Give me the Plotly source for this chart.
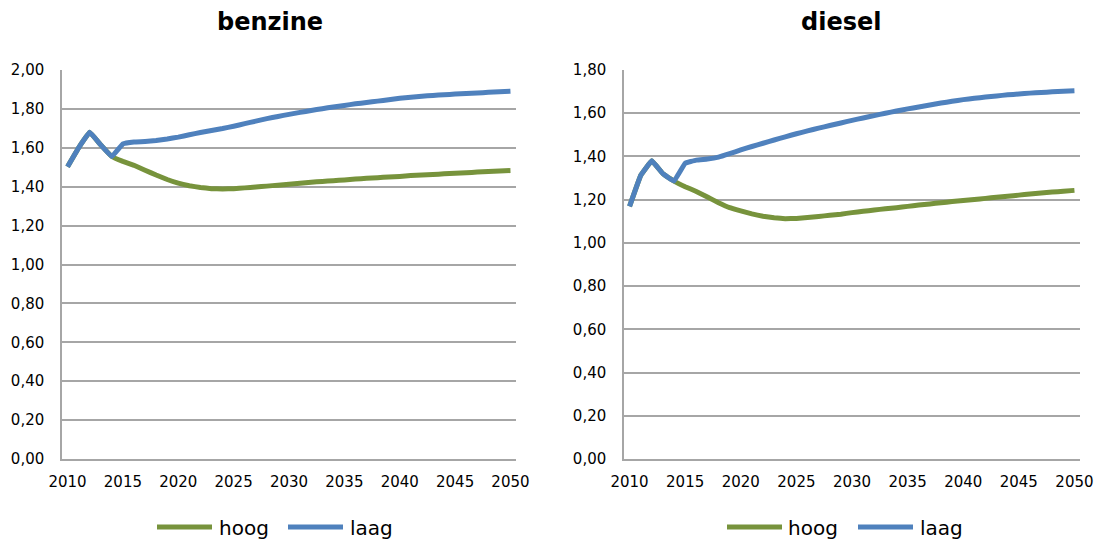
import plotly.graph_objects as go

years = list(range(2010, 2051))
series_names = ["hoog", "laag"]
panel_titles = ["benzine", "diesel"]

benzine_hoog = [1.503, 1.60, 1.68, 1.615, 1.555, 1.53, 1.51, 1.485, 1.46, 1.437,
                1.418, 1.405, 1.396, 1.39, 1.388, 1.39, 1.394, 1.398, 1.403, 1.408,
                1.413, 1.418, 1.423, 1.427, 1.431, 1.435, 1.439, 1.443, 1.446, 1.450,
                1.453, 1.457, 1.460, 1.463, 1.466, 1.469, 1.472, 1.475, 1.478, 1.481,
                1.483]
benzine_laag = [1.503, 1.60, 1.68, 1.615, 1.555, 1.62, 1.63, 1.632, 1.637, 1.645,
                1.655, 1.667, 1.679, 1.689, 1.699, 1.711, 1.724, 1.737, 1.750, 1.761,
                1.772, 1.782, 1.792, 1.801, 1.810, 1.818, 1.826, 1.833, 1.840, 1.847,
                1.855, 1.860, 1.865, 1.869, 1.873, 1.876, 1.879, 1.882, 1.885, 1.888,
                1.891]
diesel_hoog = [1.169, 1.312, 1.38, 1.32, 1.286, 1.26, 1.238, 1.212, 1.186, 1.163,
               1.148, 1.134, 1.123, 1.116, 1.112, 1.113, 1.117, 1.122, 1.128, 1.133,
               1.140, 1.146, 1.152, 1.158, 1.163, 1.169, 1.175, 1.180, 1.186, 1.191,
               1.196, 1.201, 1.206, 1.211, 1.216, 1.221, 1.226, 1.231, 1.235, 1.239,
               1.243]
diesel_laag = [1.169, 1.312, 1.38, 1.32, 1.286, 1.369, 1.383, 1.388, 1.397, 1.413,
               1.430, 1.446, 1.461, 1.476, 1.491, 1.505, 1.518, 1.531, 1.543, 1.555,
               1.567, 1.578, 1.589, 1.600, 1.610, 1.620, 1.629, 1.638, 1.647, 1.655,
               1.663, 1.669, 1.675, 1.680, 1.685, 1.689, 1.693, 1.696, 1.699, 1.702,
               1.704]

y_max = [2.0, 1.8]
colors = {"hoog": "#77933c", "laag": "#4f81bd"}
FONT = "DejaVu Sans"
GRID = "#a6a6a6"

fig = go.Figure()
data = [(benzine_hoog, benzine_laag), (diesel_hoog, diesel_laag)]
for i, (h, l) in enumerate(data):
    ax = "" if i == 0 else "2"
    for name, vals in zip(series_names, (h, l)):
        fig.add_trace(go.Scatter(x=years, y=vals, mode="lines", name=name,
                                 line=dict(color=colors[name], width=5,
                                           shape="spline", smoothing=0.2),
                                 xaxis="x" + ax, yaxis="y" + ax, showlegend=False,
                                 hoverinfo="skip"))

x_domains = [[62 / 1101, 516 / 1101], [624 / 1101, 1080 / 1101]]
y_domain = [1 - 459 / 540, 1 - 70 / 540]
for i in range(2):
    sfx = "" if i == 0 else "2"
    fig.layout["xaxis" + sfx] = dict(
        domain=x_domains[i], range=[2009.5, 2050.5], tickvals=list(range(2010, 2051, 5)),
        showgrid=False, zeroline=False, showline=True, linecolor=GRID, linewidth=1.5,
        ticks="", ticklabelstandoff=8, automargin=False,
        tickfont=dict(family=FONT, size=15, color="black"),
        anchor="y" + sfx, fixedrange=True)
    fig.layout["yaxis" + sfx] = dict(
        domain=y_domain, range=[0, y_max[i]], dtick=0.2, tickformat=".2f",
        showgrid=True, gridcolor=GRID, gridwidth=1.5, zeroline=False,
        showline=True, linecolor=GRID, linewidth=1.5, ticks="", ticklabelstandoff=13,
        automargin=False, tickfont=dict(family=FONT, size=15, color="black"),
        anchor="x" + sfx, fixedrange=True)

# panel titles
title_x = [270 / 1101, 841 / 1101]
for i, t in enumerate(panel_titles):
    fig.add_annotation(text="<b>" + t + "</b>", x=title_x[i], y=1 - 22 / 540,
                       xref="paper", yref="paper", showarrow=False,
                       xanchor="center", yanchor="middle",
                       font=dict(family=FONT, size=24, color="black"))

# legends
legend_items = [
    [(157, 212, 217), (288, 343, 348)],
    [(727, 782, 786), (858, 913, 918)],
]
ly = 1 - 527 / 540
for panel in legend_items:
    for name, (x0, x1, xt) in zip(series_names, panel):
        fig.add_shape(type="line", xref="paper", yref="paper",
                      x0=x0 / 1101, x1=x1 / 1101, y0=ly, y1=ly,
                      line=dict(color=colors[name], width=5))
        fig.add_annotation(text=name, x=xt / 1101, y=1 - 528 / 540,
                           xref="paper", yref="paper", showarrow=False,
                           xanchor="left", yanchor="middle",
                           font=dict(family=FONT, size=20, color="black"))

fig.update_layout(width=1101, height=540, margin=dict(l=0, r=0, t=0, b=0),
                  paper_bgcolor="white", plot_bgcolor="white", separators=",.",
                  font=dict(family=FONT, color="black"))

fig.write_html("out.html")
